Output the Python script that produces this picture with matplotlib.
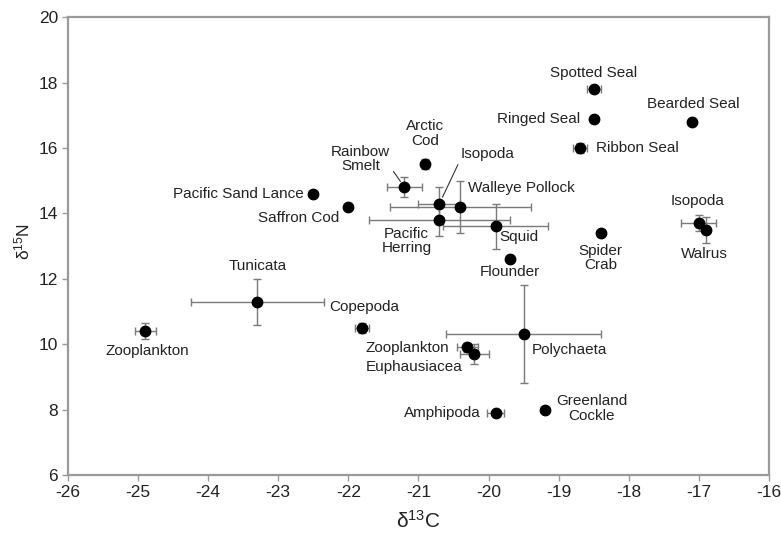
import matplotlib
matplotlib.use("Agg")
import matplotlib.pyplot as plt

plt.rcParams["font.family"] = ["Liberation Sans", "DejaVu Sans"]
plt.rcParams["mathtext.fontset"] = "custom"
plt.rcParams["mathtext.rm"] = "Liberation Sans"
plt.rcParams["mathtext.it"] = "Liberation Sans"

# Taxa and their mean isotope values with error ranges
names = ["Zooplankton", "Tunicata", "Copepoda", "Pacific Sand Lance", "Saffron Cod",
         "Rainbow\nSmelt", "Arctic\nCod", "Isopoda", "Walleye Pollock", "Pacific\nHerring",
         "Squid", "Flounder", "Polychaeta", "Zooplankton", "Euphausiacea", "Amphipoda",
         "Greenland\nCockle", "Spotted Seal", "Ringed Seal", "Ribbon Seal", "Bearded Seal",
         "Spider\nCrab", "Isopoda", "Walrus"]
d13c = [-24.9, -23.3, -21.8, -22.5, -22.0,
        -21.2, -20.9, -20.7, -20.4, -20.7,
        -19.9, -19.7, -19.5, -20.3, -20.2, -19.9,
        -19.2, -18.5, -18.5, -18.7, -17.1,
        -18.4, -17.0, -16.9]
d15n = [10.4, 11.3, 10.5, 14.6, 14.2,
        14.8, 15.5, 14.3, 14.2, 13.8,
        13.6, 12.6, 10.3, 9.9, 9.7, 7.9,
        8.0, 17.8, 16.9, 16.0, 16.8,
        13.4, 13.7, 13.5]
d13c_err = [0.15, 0.95, 0.1, 0.0, 0.0,
            0.25, 0.0, 0.3, 1.0, 1.0,
            0.75, 0.0, 1.1, 0.15, 0.2, 0.12,
            0.0, 0.1, 0.0, 0.1, 0.0,
            0.0, 0.25, 0.0]
d15n_err = [0.25, 0.7, 0.15, 0.0, 0.0,
            0.3, 0.15, 0.5, 0.8, 0.5,
            0.7, 0.0, 1.5, 0.15, 0.3, 0.0,
            0.0, 0.0, 0.0, 0.15, 0.0,
            0.0, 0.25, 0.4]

x_ticks = [-26, -25, -24, -23, -22, -21, -20, -19, -18, -17, -16]
y_ticks = [6, 8, 10, 12, 14, 16, 18, 20]

# label placement: offset in pixels from the point, horizontal alignment, leader line
label_offsets = [(2, -20), (0, 36), (2, 21), (-10, 0), (-9, -11),
                 (-44, 28), (0, 31), (48, 50), (8, 19), (-33, -21),
                 (23, -11), (0, -13), (46, -16), (-18, -1), (-60, -13), (-15, 0),
                 (47, 1), (0, 16), (-14, 0), (16, 0), (1, 18),
                 (0, -25), (-1, 22), (-1, -24)]
label_ha = ["center", "center", "center", "right", "right",
            "center", "center", "center", "left", "center",
            "center", "center", "center", "right", "center", "right",
            "center", "center", "right", "left", "center",
            "center", "center", "center"]
leader = {5: (1.0, 0.25), 7: (0.0, 0.1)}

fig = plt.figure(figsize=(7.81, 5.37), dpi=100)
ax = fig.add_axes([0.087, 0.1155, 0.8975, 0.8525])

ax.errorbar(d13c, d15n, xerr=d13c_err, yerr=d15n_err, fmt="none",
            ecolor="#7a7a7a", elinewidth=1.0, capsize=3, capthick=1.0, zorder=2)
ax.plot(d13c, d15n, "o", color="black", markersize=7.5, zorder=3)

for i, name in enumerate(names):
    dx, dy = label_offsets[i]
    kw = {}
    if i in leader:
        kw["arrowprops"] = dict(arrowstyle="-", color="#333333", lw=0.8,
                                shrinkA=1, shrinkB=5, relpos=leader[i])
    ax.annotate(name, (d13c[i], d15n[i]), xytext=(dx, dy), textcoords="offset pixels",
                ha=label_ha[i], va="center", fontsize=11, color="#222222",
                linespacing=1.05, multialignment="center", zorder=4, **kw)

ax.set_xlim(-26, -16)
ax.set_ylim(6, 20)
ax.set_xticks(x_ticks)
ax.set_yticks(y_ticks)
ax.set_xticklabels([str(t) for t in x_ticks])
ax.set_yticklabels([str(t) for t in y_ticks])

for s in ax.spines.values():
    s.set_color("#9a9a9a")
    s.set_linewidth(1.6)
ax.tick_params(direction="out", length=4, width=1.0, color="#9a9a9a",
               labelsize=12.5, labelcolor="#222222", pad=3)

ax.set_xlabel("δ$^{13}$C", fontsize=15, color="#222222", labelpad=7)
ax.set_ylabel("δ$^{15}$N", fontsize=12.5, color="#222222")
ax.yaxis.set_label_coords(-0.05, 0.511)

fig.savefig("out.png", dpi=100)
